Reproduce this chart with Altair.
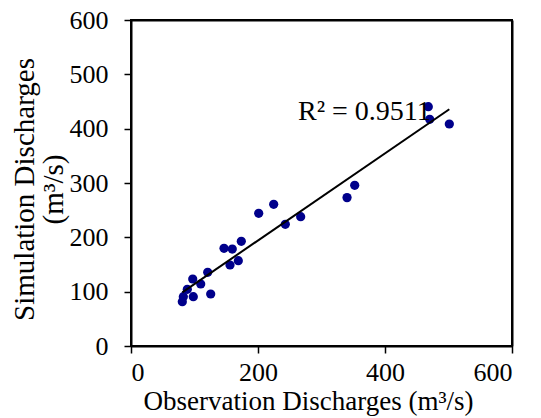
import altair as alt
import pandas as pd

obs = [80.8, 82.4, 88.7, 97.2, 98.1, 109.8, 120.8, 125.5, 146.5, 159.5, 155.9,
       169.0, 173.7, 201.1, 224.7, 243.0, 267.2, 340.2, 352.3, 468.2, 470.4, 501.3]
sim = [81.5, 90.7, 104.4, 123.3, 90.7, 114.1, 135.7, 95.7, 179.8, 178.5, 149.1,
       157.0, 192.7, 244.2, 260.8, 224.0, 238.0, 273.1, 295.8, 440.4, 417.2, 408.6]

label_text = ["R² = 0.9511"]
label_x = [263]
label_y = [416]

df = pd.DataFrame({"obs": obs, "sim": sim})
lab = pd.DataFrame({"t": label_text, "x": label_x, "y": label_y})

FONT = "Liberation Serif"

xs = alt.Scale(domain=[0, 600], nice=False, zero=False)
ys = alt.Scale(domain=[0, 600], nice=False, zero=False)

xax = alt.Axis(values=[0, 200, 400, 600], title="Observation Discharges (m³/s)",
               titleX=177, titleY=63, titleBaseline="alphabetic", titleAlign="center",
               titleFontSize=27, labelPadding=6, tickSize=7)
yax = alt.Axis(values=[0, 100, 200, 300, 400, 500, 600],
               title=["Simulation Discharges", "(m³/s)"],
               titleX=-98, titleY=169, titleBaseline="alphabetic", titleAlign="center",
               titleAngle=-90, titleLineHeight=29, titleFontSize=29,
               labelPadding=16, tickSize=7)

pts = alt.Chart(df).mark_circle(size=85, color="#00008B", opacity=1).encode(
    x=alt.X("obs:Q", scale=xs, axis=xax),
    y=alt.Y("sim:Q", scale=ys, axis=yax),
)

line = alt.Chart(df).transform_regression("obs", "sim").mark_line(
    color="black", strokeWidth=2).encode(
    x=alt.X("obs:Q", scale=xs, axis=None),
    y=alt.Y("sim:Q", scale=ys, axis=None),
)

frame_x = alt.Axis(orient="top", labels=False, ticks=False, title="", values=[0, 600])
frame_y = alt.Axis(orient="right", labels=False, ticks=False, title="", values=[0, 600])

txt = alt.Chart(lab).mark_text(align="left", baseline="alphabetic", fontSize=28,
                               font=FONT, color="black").encode(
    x=alt.X("x:Q", scale=xs, axis=frame_x),
    y=alt.Y("y:Q", scale=ys, axis=frame_y),
    text="t:N")

chart = alt.layer(pts, line, txt).resolve_axis(
    x="independent", y="independent"
).properties(
    width=381, height=326,
    autosize=alt.AutoSizeParams(type="none"),
    padding={"left": 123, "top": 12, "right": 21, "bottom": 70},
).configure_view(stroke="black", strokeWidth=2).configure_axis(
    grid=False, domainColor="black", domainWidth=2, tickColor="black", tickWidth=1.5,
    labelFont=FONT, labelFontSize=26, labelColor="black",
    titleFont=FONT, titleFontSize=28, titleColor="black", titleFontWeight="normal",
)

chart.save("out.html", embed_options={"renderer": "svg", "actions": False})
